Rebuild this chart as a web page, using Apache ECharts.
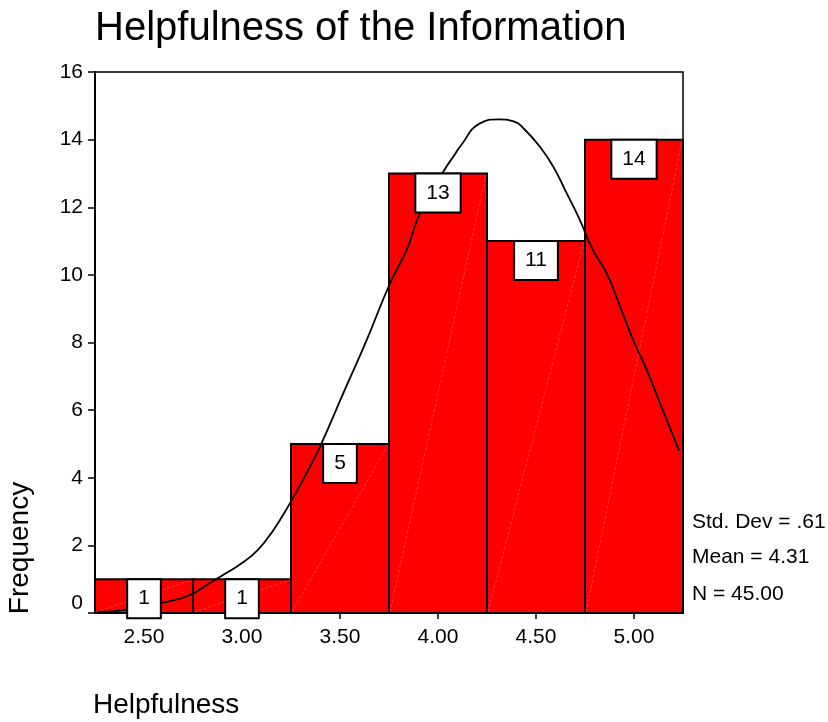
<!DOCTYPE html>
<html>
<head>
<meta charset="utf-8">
<title>Helpfulness of the Information</title>
<script src="https://cdn.jsdelivr.net/npm/echarts@6/dist/echarts.min.js"></script>
<style>
  html, body { margin: 0; padding: 0; background: #fff; }
  #main { width: 828px; height: 722px; }
</style>
</head>
<body>
<div id="main"></div>
<script>
// histogram bins
var binCenters = [2.5, 3.0, 3.5, 4.0, 4.5, 5.0];
var frequencies = [1, 1, 5, 13, 11, 14];
var binWidth = 0.5;

// normal curve
var curveX = [2.26, 2.41, 2.59, 2.667, 2.745, 2.828, 2.92, 2.998, 3.08, 3.16, 3.245, 3.33,
              3.398, 3.517, 3.636, 3.755, 3.84, 3.908, 4.027, 4.09, 4.112, 4.214, 4.31,
              4.39, 4.435, 4.52, 4.588, 4.657, 4.724, 4.79, 4.86, 4.929, 4.996, 5.065,
              5.133, 5.23];
var curveY = [0.03, 0.09, 0.30, 0.40, 0.56, 0.86, 1.18, 1.47, 1.86, 2.45, 3.25, 4.14,
              4.92, 6.5, 8.07, 9.75, 10.74, 11.82, 13.05, 13.6, 13.79, 14.48, 14.6,
              14.53, 14.34, 13.79, 13.2, 12.41, 11.62, 10.74, 10.05, 9.06, 8.07, 7.19,
              6.2, 4.8];

var xTicks = [2.5, 3.0, 3.5, 4.0, 4.5, 5.0];
var statsLines = ['Std. Dev = .61', 'Mean = 4.31', 'N = 45.00'];

var FONT = '"Liberation Sans", Arial, sans-serif';

var myChart = echarts.init(document.getElementById('main'));

var barData = binCenters.map(function (c, i) { return [c, frequencies[i]]; });
var curveData = curveX.map(function (x, i) { return [x, curveY[i]]; });

//画柱子
function renderBar(params, api) {
    var x = api.value(0), f = api.value(1);
    var p0 = api.coord([x - binWidth / 2, f]);
    var p1 = api.coord([x + binWidth / 2, 0]);
    return {
        type: 'group',
        children: [{
            type: 'rect',
            shape: { x: p0[0], y: p0[1], width: p1[0] - p0[0], height: p1[1] - p0[1] },
            style: { fill: '#ff0000', stroke: '#000', lineWidth: 2 }
        }, {
            type: 'line',
            shape: { x1: p0[0] + 1, y1: p1[1] - 1, x2: p1[0] - 1, y2: p0[1] + 1 },
            style: { stroke: 'rgba(255,255,255,0.45)', lineWidth: 0.5, lineDash: [3, 2] }
        }]
    };
}

//画数值框
function renderLabel(params, api) {
    var x = api.value(0), f = api.value(1);
    var p = api.coord([x, f]);
    return {
        type: 'text',
        x: p[0],
        y: p[1] + 1,
        style: {
            text: String(f),
            fill: '#000',
            font: '21px ' + FONT,
            align: 'center',
            verticalAlign: 'top',
            lineHeight: 21,
            backgroundColor: '#fff',
            borderColor: '#000',
            borderWidth: 2,
            padding: [8, 10, 8, 10]
        }
    };
}

var option = {
    animation: false,
    backgroundColor: '#fff',
    title: {
        text: 'Helpfulness of the Information',
        left: 90,
        top: 4,
        textStyle: { fontFamily: FONT, fontSize: 40, fontWeight: 'normal', color: '#000' }
    },
    grid: {
        left: 95, top: 72, right: 145, bottom: 109,
        show: true, borderColor: '#000', borderWidth: 1.5, backgroundColor: 'transparent'
    },
    xAxis: {
        type: 'value',
        min: 2.25, max: 5.25, interval: 0.25,
        splitLine: { show: false },
        axisLine: { lineStyle: { color: '#000', width: 2 } },
        axisTick: { show: true, length: 6, lineStyle: { color: '#000', width: 1.5 }, customValues: xTicks },
        axisLabel: {
            customValues: xTicks, margin: 14,
            color: '#000', fontFamily: FONT, fontSize: 21,
            formatter: function (v) { return v.toFixed(2); }
        }
    },
    yAxis: {
        type: 'value',
        min: 0, max: 16, interval: 2,
        splitLine: { show: false },
        axisLine: { show: true, lineStyle: { color: '#000', width: 2 } },
        axisTick: { show: true, length: 7, lineStyle: { color: '#000', width: 1.5 } },
        axisLabel: {
            margin: 12, color: '#000', fontFamily: FONT, fontSize: 21,
            formatter: function (v) { return v === 0 ? '{z|0}' : String(v); },
            rich: { z: { fontFamily: FONT, fontSize: 21, color: '#000', padding: [0, 0, 20, 0] } }
        }
    },
    graphic: [{
        type: 'text', x: 20, y: 548, rotation: Math.PI / 2,
        style: { text: 'Frequency', fill: '#000', font: '28px ' + FONT, align: 'center', verticalAlign: 'middle' }
    }, {
        type: 'text', x: 93, y: 705,
        style: { text: 'Helpfulness', fill: '#000', font: '28px ' + FONT, align: 'left', verticalAlign: 'middle' }
    }].concat(statsLines.map(function (s, i) {
        return {
            type: 'text', x: 692, y: [522, 557, 594][i],
            style: { text: s, fill: '#000', font: '21px ' + FONT, align: 'left', verticalAlign: 'middle' }
        };
    })),
    series: [{
        type: 'custom',
        name: 'bars',
        renderItem: renderBar,
        data: barData,
        z: 2
    }, {
        type: 'line',
        name: 'normal',
        data: curveData,
        smooth: true,
        showSymbol: false,
        symbol: 'none',
        lineStyle: { color: '#000', width: 1.8 },
        z: 3
    }, {
        type: 'custom',
        name: 'labels',
        renderItem: renderLabel,
        data: barData,
        z: 4
    }]
};

myChart.setOption(option);
</script>
</body>
</html>
